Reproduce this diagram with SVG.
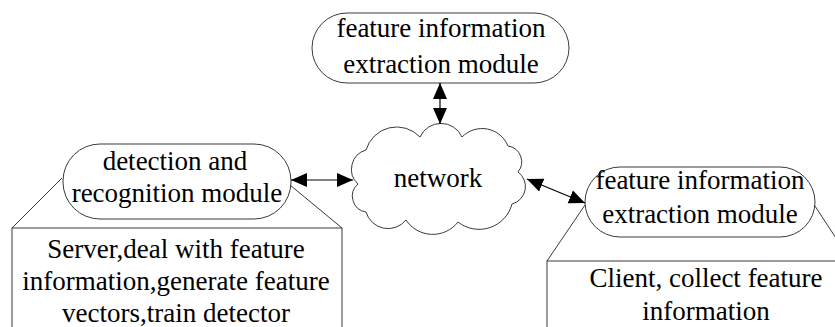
<svg xmlns="http://www.w3.org/2000/svg" width="835" height="327" viewBox="0 0 835 327">
  <style>
    .shape { fill: #ffffff; stroke: #3a3a3a; stroke-width: 1; }
    .line { fill: none; stroke: #3a3a3a; stroke-width: 1; }
    .link { fill: none; stroke: #000000; stroke-width: 1.2; }
  </style>
  <defs>
    <marker id="head" markerUnits="userSpaceOnUse" markerWidth="17" markerHeight="15" refX="16" refY="7" orient="auto-start-reverse">
      <path d="M0,0 L16,7 L0,14 Z" fill="#000000"/>
    </marker>
  </defs>
  <rect width="835" height="327" fill="#ffffff"/>

  <!-- top module -->
  <g id="top-module" font-family="Liberation Serif" font-size="27" text-anchor="middle" fill="#000000">
    <rect class="shape" x="312" y="13" width="257" height="70" rx="35" ry="35"/>
    <text x="441" y="37">feature information</text>
    <text x="441" y="73">extraction module</text>
  </g>

  <!-- server side: detection and recognition -->
  <g id="server-module" font-family="Liberation Serif" font-size="27" text-anchor="middle" fill="#000000">
    <path class="line" d="M62,178 L12,228 M290,185 L342,228"/>
    <rect class="shape" x="12" y="228" width="330" height="120"/>
    <rect class="shape" x="63" y="144" width="228" height="75" rx="37" ry="37"/>
    <text x="175" y="170">detection and</text>
    <text x="177" y="202">recognition module</text>
    <text x="176" y="258">Server,deal with feature</text>
    <text x="176" y="290">information,generate feature</text>
    <text x="176" y="322">vectors,train detector</text>
  </g>

  <!-- network cloud -->
  <g id="network" font-family="Liberation Serif" font-size="27" text-anchor="middle" fill="#000000">
    <path class="shape" d="M358,184 A20,20 0 0 1 366,150 A32,32 0 0 1 420,137 A23,23 0 0 1 462,137 A28,28 0 0 1 508,146 A16,16 0 0 1 518,172 A18,18 0 0 1 512,204 A34,34 0 0 1 458,222 A32,32 0 0 1 406,220 A23,23 0 0 1 366,212 A16,16 0 0 1 358,184 Z"/>
    <text x="438" y="187">network</text>
  </g>

  <!-- client side: feature information extraction -->
  <g id="client-module" font-family="Liberation Serif" font-size="27" text-anchor="middle" fill="#000000">
    <path class="line" d="M585,205 L547,261 M813,203 L851,261"/>
    <rect class="shape" x="547" y="261" width="330" height="100"/>
    <rect class="shape" x="585" y="167" width="230" height="70" rx="35" ry="35"/>
    <text x="700" y="189">feature information</text>
    <text x="700" y="223">extraction module</text>
    <text x="706" y="287">Client, collect feature</text>
    <text x="706" y="320">information</text>
  </g>

  <!-- connectors -->
  <g id="connectors">
    <line class="link" x1="440" y1="83" x2="440" y2="124" marker-start="url(#head)" marker-end="url(#head)"/>
    <line class="link" x1="291" y1="180" x2="353" y2="180" marker-start="url(#head)" marker-end="url(#head)"/>
    <line class="link" x1="527" y1="179" x2="585" y2="203" marker-start="url(#head)" marker-end="url(#head)"/>
  </g>
</svg>
